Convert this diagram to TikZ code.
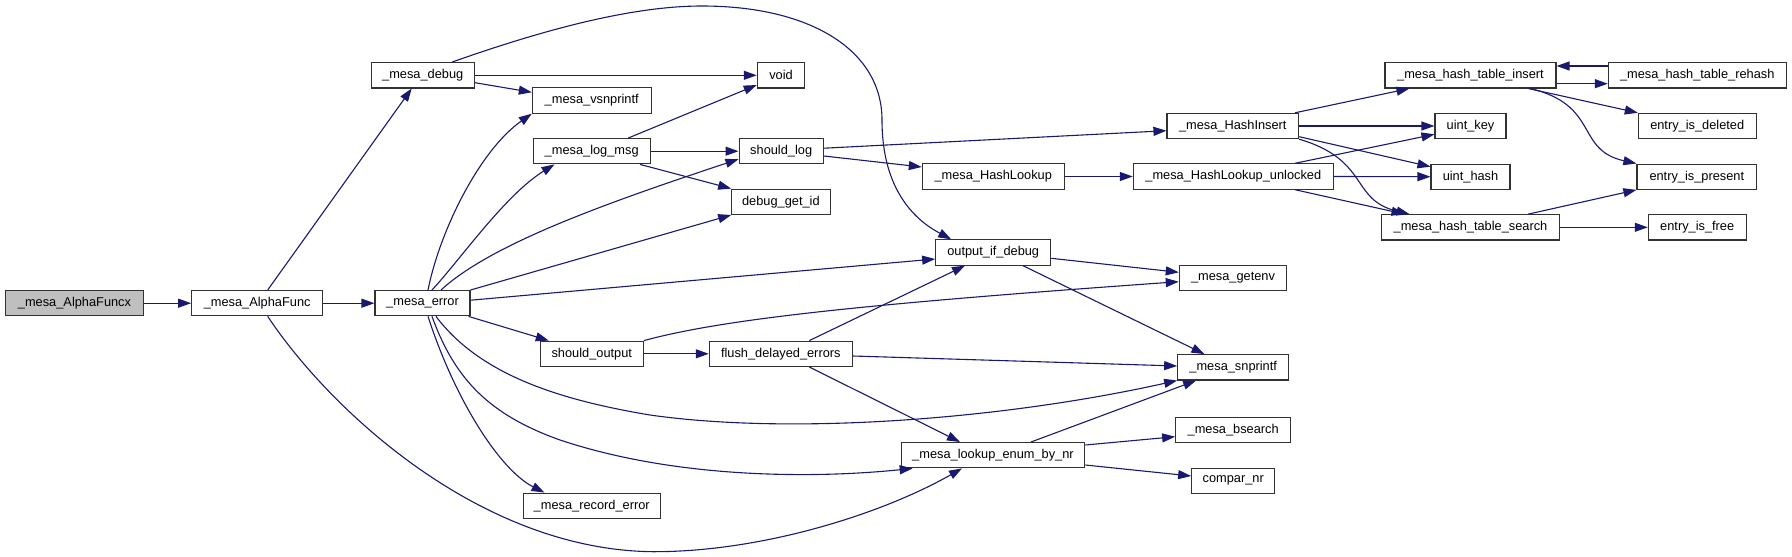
\documentclass[tikz,border=0pt]{standalone}
\usepackage{fontspec}
\setmainfont{Liberation Sans}
\usetikzlibrary{arrows.meta}
\definecolor{edgecol}{RGB}{25,25,112}
\definecolor{boxline}{RGB}{50,50,50}
\begin{document}
\begin{tikzpicture}[x=1pt,y=-1pt,
  box/.style={draw=boxline, line width=1.1pt, fill=white, inner sep=0pt,
    minimum height=25.3pt, font=\fontsize{12.8}{15}\selectfont},
  edge/.style={draw=edgecol, line width=1.1pt, -{Triangle[length=13pt,width=9pt]}}]
\fill[white] (0,0) rectangle (1792,557);
\useasboundingbox (0,0) rectangle (1792,557);
% nodes
\node[box,fill=black!25,minimum width=137.6pt] (fx) at (74.5,303.2) {\_mesa\_AlphaFuncx};
\node[box,minimum width=131pt] (af) at (257.2,303.2) {\_mesa\_AlphaFunc};
\node[box,minimum width=95pt] (err) at (422.5,303.2) {\_mesa\_error};
\node[box,minimum width=103.3pt] (dbg) at (422.7,75.3) {\_mesa\_debug};
\node[box,minimum width=118.7pt] (vsn) at (591.7,100.5) {\_mesa\_vsnprintf};
\node[box,minimum width=117.3pt] (log) at (591.7,151.2) {\_mesa\_log\_msg};
\node[box,minimum width=103pt] (so) at (591.8,353.8) {should\_output};
\node[box,minimum width=137.3pt] (rec) at (591.7,505.8) {\_mesa\_record\_error};
\node[box,minimum width=47.4pt] (void) at (781,75.3) {void};
\node[box,minimum width=84.3pt] (sl) at (781.2,151.2) {should\_log};
\node[box,minimum width=98.3pt] (dgi) at (780.9,201.8) {debug\_get\_id};
\node[box,minimum width=115pt] (oid) at (993.2,252.5) {output\_if\_debug};
\node[box,minimum width=143pt] (fde) at (780.8,353.8) {flush\_delayed\_errors};
\node[box,minimum width=183.5pt] (len) at (993,455.2) {\_mesa\_lookup\_enum\_by\_nr};
\node[box,minimum width=141.7pt] (hl) at (993.2,176.5) {\_mesa\_HashLookup};
\node[box,minimum width=131.7pt] (hi) at (1232.8,126) {\_mesa\_HashInsert};
\node[box,minimum width=200pt] (hlu) at (1233.3,176.5) {\_mesa\_HashLookup\_unlocked};
\node[box,minimum width=107.4pt] (ge) at (1233,277.7) {\_mesa\_getenv};
\node[box,minimum width=111pt] (snp) at (1233.2,367.3) {\_mesa\_snprintf};
\node[box,minimum width=115pt] (bs) at (1233.2,430) {\_mesa\_bsearch};
\node[box,minimum width=83pt] (cn) at (1233.2,480.7) {compar\_nr};
\node[box,minimum width=171pt] (hti) at (1470.5,75.3) {\_mesa\_hash\_table\_insert};
\node[box,minimum width=177.7pt] (htr) at (1697.2,75.3) {\_mesa\_hash\_table\_rehash};
\node[box,minimum width=71pt] (uk) at (1470.5,126) {uint\_key};
\node[box,minimum width=79pt] (uh) at (1470.5,176.7) {uint\_hash};
\node[box,minimum width=117.7pt] (eid) at (1697.2,126) {entry\_is\_deleted};
\node[box,minimum width=119.7pt] (eip) at (1696.8,176.7) {entry\_is\_present};
\node[box,minimum width=177.6pt] (hts) at (1470.5,227.3) {\_mesa\_hash\_table\_search};
\node[box,minimum width=97.7pt] (eif) at (1697.2,227.3) {entry\_is\_free};
% edges
\draw[edge] (fx.east) -- (af.west);
\draw[edge] (af.east) -- (err.west);
\draw[edge] ([xshift=10.5pt]af.north) -- ([xshift=-11pt]dbg.south);
\draw[edge] ([xshift=10.5pt]af.south) .. controls (330,410) and (480,550) .. (653,551.7)
  .. controls (760,552) and (880,515) .. ([xshift=-31pt]len.south);
\draw[edge] ([xshift=29.3pt]dbg.north) .. controls (540,31) and (630,6) .. (702,6)
  .. controls (810,6) and (882,50) .. (882,120)
  .. controls (882,190) and (915,220) .. ([xshift=-42pt]oid.north);
\draw[edge] (dbg.east) -- (void.west);
\draw[edge] ([yshift=-7.4pt]dbg.east) -- ([yshift=8.2pt]vsn.west);
% from _mesa_error
\draw[edge] ([xshift=5.5pt]err.north) .. controls (440,230) and (480,150) .. (vsn.south west);
\draw[edge] ([xshift=9.5pt]err.north) .. controls (460,260) and (505,195) .. ([xshift=22pt]log.south west);
\draw[edge] ([xshift=18.5pt]err.north) .. controls (490,245) and (600,205) .. ([yshift=-8pt]sl.west);
\draw[edge] (err.north east) -- (dgi.south west);
\draw[edge] ([yshift=3pt]err.east) -- ([yshift=-6.5pt]oid.west);
\draw[edge] ([xshift=-2pt]err.south east) -- ([xshift=9pt]so.north west);
\draw[edge] ([xshift=13.5pt]err.south) .. controls (480,375) and (560,400) .. (650,415)
  .. controls (790,435) and (1000,420) .. (snp.south west);
\draw[edge] ([xshift=9.5pt]err.south) .. controls (455,380) and (490,415) .. (560,440)
  .. controls (680,480) and (820,478) .. ([xshift=12pt]len.south west);
\draw[edge] ([xshift=5.5pt]err.south) .. controls (455,400) and (500,470) .. ([xshift=22pt]rec.north west);
% _mesa_log_msg
\draw[edge] ([xshift=36.6pt]log.north) -- ([yshift=-9.7pt]void.west);
\draw[edge] (log.east) -- (sl.west);
\draw[edge] ([xshift=48.3pt]log.south) -- (dgi.north west);
% should_log
\draw[edge] ([yshift=3pt]sl.east) -- ([yshift=-4.7pt]hi.west);
\draw[edge] ([yshift=-4.8pt]sl.east) -- ([yshift=9.5pt]hl.west);
\draw[edge] (hl.east) -- (hlu.west);
% _mesa_HashInsert
\draw[edge] ([xshift=62.2pt]hi.north) -- ([xshift=25pt]hti.south west);
\draw[edge] (hi.east) -- (uk.west);
\draw[edge] ([yshift=-10.7pt]hi.east) -- ([yshift=10pt]uh.west);
\draw[edge] (hi.south east) .. controls (1370,160) and (1350,200) .. ([xshift=28.3pt]hts.north west);
% _mesa_HashLookup_unlocked
\draw[edge] ([xshift=61.7pt]hlu.north) -- ([yshift=-8.3pt]uk.west);
\draw[edge] (hlu.east) -- (uh.west);
\draw[edge] ([xshift=61.7pt]hlu.south) -- ([xshift=23.3pt]hts.north west);
% hash table
\draw[edge] ([yshift=-8.4pt]hti.east) -- ([yshift=-8.4pt]htr.west);
\draw[edge] ([yshift=9.3pt]htr.west) -- ([yshift=9.3pt]hti.east);
\draw[edge] ([xshift=57.8pt]hti.south) -- (eid.north west);
\draw[edge] ([xshift=59.5pt]hti.south) .. controls (1600,105) and (1575,150) .. (eip.north west);
\draw[edge] ([xshift=57.8pt]hts.north) -- (eip.south west);
\draw[edge] (hts.east) -- (eif.west);
% output_if_debug
\draw[edge] ([yshift=-5.8pt]oid.east) -- ([yshift=5.4pt]ge.west);
\draw[edge] ([xshift=29.8pt]oid.south) -- ([xshift=27.3pt]snp.north west);
% should_output
\draw[edge] (so.north east) .. controls (720,320) and (850,305) .. ([yshift=-4pt]ge.west);
\draw[edge] (so.east) -- (fde.west);
% flush_delayed_errors
\draw[edge] ([xshift=28.5pt]fde.north) -- ([xshift=-28.2pt]oid.south);
\draw[edge] ([yshift=-2.2pt]fde.east) -- ([yshift=1.3pt]snp.west);
\draw[edge] ([xshift=28.5pt]fde.south) -- ([xshift=-33pt]len.north);
% _mesa_lookup_enum_by_nr
\draw[edge] ([xshift=38pt]len.north) -- ([xshift=19pt]snp.south west);
\draw[edge] ([yshift=10.2pt]len.east) -- ([yshift=-6.7pt]bs.west);
\draw[edge] ([yshift=-9.8pt]len.east) -- ([yshift=4.7pt]cn.west);
\end{tikzpicture}
\end{document}
